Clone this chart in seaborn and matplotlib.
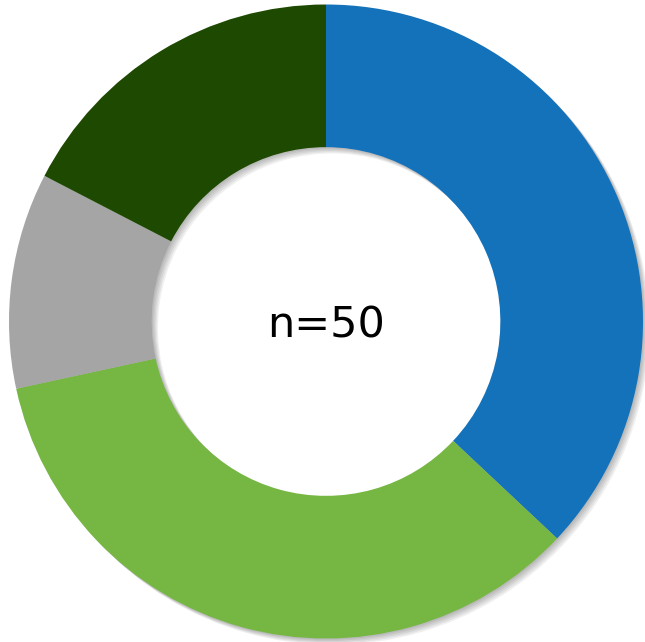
import matplotlib
matplotlib.use("Agg")
import matplotlib.pyplot as plt
import seaborn as sns

labels = ["A", "B", "C", "D"]
values = [37.0, 34.6, 11.0, 17.4]
colors = ["#1372BA", "#76B642", "#A5A5A5", "#1D4A00"]
center_text = "n=50"

sns.set_theme(style="white")
plt.rcParams['font.family'] = ['DejaVu Sans']

fig = plt.figure(figsize=(6.45, 6.42), dpi=100)
ax = fig.add_axes([9/645, 3.5/642, 634/645, 634/642])
ax.set_xlim(-1, 1)
ax.set_ylim(-1, 1)
ax.axis("off")

width = 0.45
# soft shadow
for i, off in enumerate([0.004, 0.008, 0.012, 0.016, 0.020]):
    ax.pie(values, radius=1.0, startangle=90, counterclock=False,
           colors=["#000000"] * len(values), center=(off, -off),
           wedgeprops=dict(width=width, linewidth=0, alpha=0.06))

ax.pie(values, radius=1.0, startangle=90, counterclock=False,
       colors=colors, wedgeprops=dict(width=width, linewidth=0))
ax.set_xlim(-1, 1)
ax.set_ylim(-1, 1)
ax.text(0, 0, center_text, ha="center", va="center_baseline", fontsize=31, color="black")

fig.savefig("out.png", dpi=100)
